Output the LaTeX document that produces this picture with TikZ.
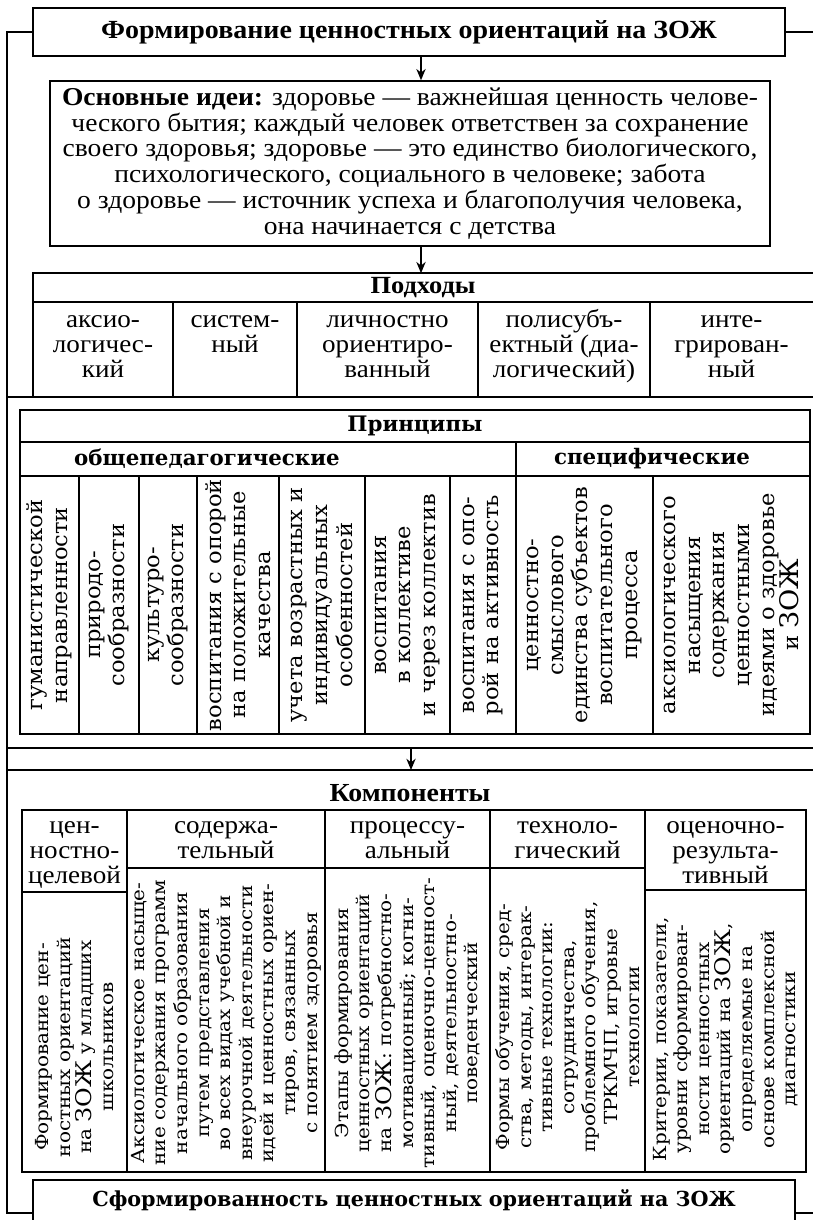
\documentclass[tikz,border=0pt]{standalone}
\usepackage{fontspec}
\setmainfont{DejaVu Serif}
\newfontfamily\cond[FakeStretch=1.07]{Liberation Serif}
\newfontfamily\widef[FakeStretch=1.06]{DejaVu Serif}
\newfontfamily\widec[FakeStretch=1.11]{DejaVu Serif}
\newcommand\zz{{\fontsize{1.2\dimexpr\fontdimen6\font\relax}{0}\selectfont ЗОЖ}}
\newcommand\fl{\rule{0pt}{14pt}}
\usetikzlibrary{arrows.meta}
\begin{document}
\begin{tikzpicture}[x=0.75pt,y=-0.75pt,
  ln/.style={line width=1.1pt},
  box/.style={draw,line width=1.1pt,inner sep=0pt},
  arr/.style={line width=1.1pt,-{Stealth[length=8.5pt,width=7pt]}},
  wb/.style={font=\bfseries\fontsize{16}{18}\selectfont,inner sep=0pt},
  cb/.style={font=\cond\bfseries\fontsize{19.5}{19}\selectfont,inner sep=0pt},
  ct/.style={font=\cond\fontsize{19}{18.5}\selectfont,align=center,inner sep=0pt},
  vt/.style={rotate=90,align=center,font=\widef\fontsize{16}{18.5}\selectfont,inner sep=0pt},
  vc/.style={rotate=90,align=center,font=\widec\fontsize{13.5}{16.2}\selectfont,inner sep=0pt},
]
\useasboundingbox (0,0) rectangle (813,1220);
% title
\node[box,font=\cond\bfseries\fontsize{19.6}{20}\selectfont,minimum width=564pt,minimum height=36pt] (title) at (409,32) {Формирование ценностных ориентаций на ЗОЖ};
\coordinate (ax) at (421,0);
% ideas
\node[box,font=\cond\fontsize{19.3}{19.4}\selectfont,align=center,minimum width=540pt,minimum height=123.75pt] (ideas) at (410,163.5)
 {{\bfseries Основные идеи:} здоровье — важнейшая ценность челове-\\
  ческого бытия; каждый человек ответствен за сохранение\\
  своего здоровья; здоровье — это единство биологического,\\
  психологического, социального в человеке; забота\\
  о здоровье — источник успеха и благополучия человека,\\
  она начинается с детства};
\draw[arr] (title.south -| ax) -- (ideas.north -| ax);
% approaches
\node[font=\cond\bfseries\fontsize{18.5}{19}\selectfont,inner sep=0pt,minimum width=585pt,minimum height=21.75pt] (podh) at (423,288) {Подходы};
\draw[arr] (ideas.south -| ax) -- (podh.north -| ax);
\draw[ln] (813,273) -- (33,273) -- (33,397);
\draw[ln] (33,302) -- (813,302);
\foreach \x in {173,297,478,650} \draw[ln] (\x,302) -- (\x,397);
\draw[ln] (7,397) -- (813,397);
\node[ct,anchor=north] (p1) at (103,309) {\fl аксио-\\логичес-\\кий};
\node[ct,anchor=north] (p2) at (235,309) {\fl систем-\\ный};
\node[ct,anchor=north] (p3) at (387.5,309) {\fl личностно\\ориентиро-\\ванный};
\node[ct,anchor=north] (p4) at (564,309) {\fl полисубъ-\\ектный (диа-\\логический)};
\node[ct,anchor=north] (p5) at (731.5,309) {\fl инте-\\грирован-\\ный};
% principles
\draw[ln] (20,410) rectangle (810,734);
\draw[ln] (20,442) -- (810,442);
\draw[ln] (20,476) -- (810,476);
\draw[ln] (516,442) -- (516,734);
\foreach \x in {79,139,197,279,365,450,653} \draw[ln] (\x,476) -- (\x,734);
\node[wb] (princ) at (415,426) {Принципы};
\node[wb] (obsh) at (207,459) {общепедагогические};
\node[wb] (spec) at (652,459) {специфические};
\node[vt] (r1) at (49.5,605) {гуманистической\\направленности};
\node[vt] (r2) at (109,605) {природо-\\сообразности};
\node[vt] (r3) at (168,605) {культуро-\\сообразности};
\node[vt] (r4) at (238,605) {воспитания с опорой\\на положительные\\качества};
\node[vt] (r5) at (322,605) {учета возрастных и\\индивидуальных\\особенностей};
\node[vt] (r6) at (407.5,605) {воспитания\\в коллективе\\и через коллектив};
\node[vt] (r7) at (483,605) {воспитания с опо-\\рой на активность};
\node[vt] (r8) at (584.5,605) {ценностно-\\смыслового\\единства субъектов\\воспитательного\\процесса};
\node[vt] (r9) at (731.5,605) {аксиологического\\насыщения\\содержания\\ценностными\\идеями о здоровье\\и \zz};
\draw[ln] (7,748) -- (813,748);
\coordinate (pb) at (411,748);
\coordinate (kt) at (411,770);
\draw[arr] (pb) -- (kt);
% components
\draw[ln] (7,770) -- (813,770);
\node[cb] (komp) at (410,793) {Компоненты};
\draw[ln] (22,810) rectangle (806,1172);
\foreach \x in {127,325,490,645} \draw[ln] (\x,810) -- (\x,1172);
\draw[ln] (22,892) -- (127,892);
\draw[ln] (127,868) -- (645,868);
\draw[ln] (645,890) -- (806,890);
\node[ct,anchor=north] (k1) at (74.5,815) {\fl цен-\\ностно-\\целевой};
\node[ct,anchor=north] (k2) at (226,815) {\fl содержа-\\тельный};
\node[ct,anchor=north] (k3) at (407.5,815) {\fl процессу-\\альный};
\node[ct,anchor=north] (k4) at (567.5,815) {\fl техноло-\\гический};
\node[ct,anchor=north] (k5) at (725.5,815) {\fl оценочно-\\результа-\\тивный};
\node[vc] (c1) at (74.5,1047) {Формирование цен-\\ностных ориентаций\\на \zz\ у младших\\школьников};
\node[vc] (c2) at (226,1023) {Аксиологическое насыще-\\ние содержания программ\\начального образования\\путем представления\\во всех видах учебной и\\внеурочной деятельности\\идей и ценностных ориен-\\тиров, связанных\\с понятием здоровья};
\node[vc] (c3) at (407.5,1023) {Этапы формирования\\ценностных ориентаций\\на \zz: потребностно-\\мотивационный; когни-\\тивный, оценочно-ценност-\\ный, деятельностно-\\поведенческий};
\node[vc] (c4) at (567.5,1027) {Формы обучения, сред-\\ства, методы, интерак-\\тивные технологии:\\сотрудничества,\\проблемного обучения,\\ТРКМЧП, игровые\\технологии};
\node[vc] (c5) at (725.5,1039) {Критерии, показатели,\\уровни сформирован-\\ности ценностных\\ориентаций на \zz,\\определяемые на\\основе комплексной\\диагностики};
% bottom
\node[box,minimum width=571.5pt,minimum height=49.5pt] (bot) at (414,1213) {};
\node[font=\bfseries\fontsize{15.5}{18}\selectfont,inner sep=0pt] (bottxt) at (414,1200) {Сформированность ценностных ориентаций на ЗОЖ};
\draw[ln] (title.west) -- (7,32) -- (7,1213) -- (bot.west);
\draw[ln] (title.east) -- (813,32);
\draw[ln] (bot.east) -- (813,1213);
\end{tikzpicture}
\end{document}
